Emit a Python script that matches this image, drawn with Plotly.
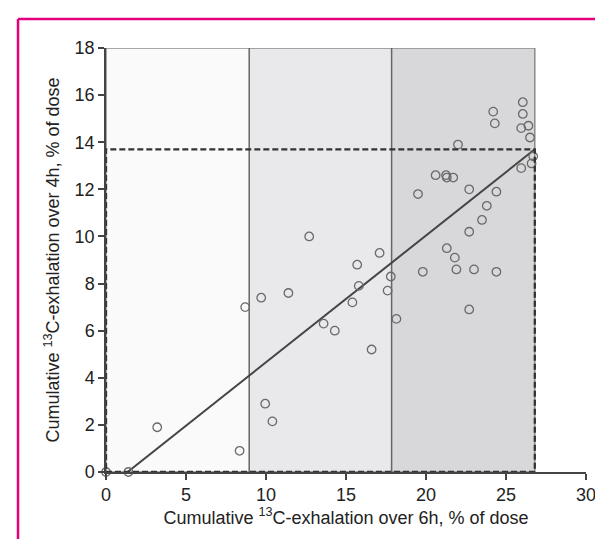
import plotly.graph_objects as go

# Data
x_6h = [0.0, 1.4, 3.2, 8.35, 8.7, 9.7, 9.95, 10.4, 11.4, 12.7, 13.6, 14.3,
        15.4, 15.7, 15.8, 16.6, 17.1, 17.6, 17.8, 18.15, 19.5, 19.8, 20.6, 21.25,
        21.3, 21.3, 21.7, 21.8, 21.9, 22.0, 22.7, 22.7, 22.7, 23.0, 23.5, 23.8,
        24.2, 24.3, 24.4, 24.4, 25.95, 25.95, 26.05, 26.05, 26.4, 26.5, 26.7, 26.6]
y_4h = [0.0, 0.0, 1.9, 0.9, 7.0, 7.4, 2.9, 2.15, 7.6, 10.0, 6.3, 6.0,
        7.2, 8.8, 7.9, 5.2, 9.3, 7.7, 8.3, 6.5, 11.8, 8.5, 12.6, 12.6,
        12.5, 9.5, 12.5, 9.1, 8.6, 13.9, 12.0, 10.2, 6.9, 8.6, 10.7, 11.3,
        15.3, 14.8, 11.9, 8.5, 14.6, 12.9, 15.7, 15.2, 14.7, 14.2, 13.4, 13.1]

fit_x = [1.35, 26.8]
fit_y = [0.0, 13.7]

tertile_bounds = [0.0, 8.95, 17.85, 26.8]
y_cut = 13.7

x_ticks = [0, 5, 10, 15, 20, 25, 30]
y_ticks = [0, 2, 4, 6, 8, 10, 12, 14, 16, 18]

x_title = "Cumulative <sup>13</sup>C-exhalation over 6h, % of dose"
y_title = "Cumulative <sup>13</sup>C-exhalation over 4h, % of dose"

fills = ["#fafafa", "#e9e9eb", "#d8d8da"]

shapes = []
for i in range(3):
    shapes.append(dict(type="rect", xref="x", yref="y", layer="below",
                       x0=tertile_bounds[i], x1=tertile_bounds[i + 1], y0=0, y1=18,
                       fillcolor=fills[i], line=dict(width=0)))
shapes.append(dict(type="rect", xref="x", yref="y", layer="below",
                   x0=tertile_bounds[0], x1=tertile_bounds[3], y0=0, y1=18,
                   line=dict(color="#8a8a8a", width=1.5)))
for b in tertile_bounds[1:3]:
    shapes.append(dict(type="line", xref="x", yref="y", layer="below",
                       x0=b, x1=b, y0=0, y1=18,
                       line=dict(color="#666666", width=1.5)))
shapes.append(dict(type="rect", xref="x", yref="y", layer="above",
                   x0=tertile_bounds[0], x1=tertile_bounds[3], y0=0, y1=y_cut,
                   line=dict(color="#333333", width=2.3, dash="6px,3px")))
# magenta frame (top and left edges visible)
shapes.append(dict(type="line", xref="paper", yref="paper", layer="above",
                   x0=-0.1833, x1=1.2, y0=1.0684, y1=1.0684,
                   line=dict(color="#e4007c", width=2.5)))
shapes.append(dict(type="line", xref="paper", yref="paper", layer="above",
                   x0=-0.1833, x1=-0.1833, y0=1.0684, y1=-0.3,
                   line=dict(color="#e4007c", width=2.5)))

fig = go.Figure()
fig.add_trace(go.Scatter(x=fit_x, y=fit_y, mode="lines",
                         line=dict(color="#444444", width=2), hoverinfo="skip",
                         cliponaxis=False))
fig.add_trace(go.Scatter(x=x_6h, y=y_4h, mode="markers",
                         marker=dict(symbol="circle-open", size=8.5, color="#6a6a6a",
                                     line=dict(width=1.3)),
                         cliponaxis=False))

fig.update_layout(
    width=603, height=539,
    margin=dict(l=98, r=25, t=40, b=75),
    paper_bgcolor="white", plot_bgcolor="white",
    showlegend=False,
    font=dict(family="Liberation Sans, Arial, sans-serif", size=18, color="#222222"),
    shapes=shapes,
    xaxis=dict(range=[0, 30], tickvals=x_ticks, showgrid=False, zeroline=False,
               showline=True, linecolor="#444444", linewidth=1.5,
               ticks="outside", ticklen=6, tickcolor="#444444", tickwidth=1.5,
               automargin=False,
               title=dict(text=x_title, standoff=3, font=dict(size=18))),
    yaxis=dict(range=[0, 18], tickvals=y_ticks, showgrid=False, zeroline=False,
               showline=True, linecolor="#444444", linewidth=1.5,
               ticks="outside", ticklen=6, tickcolor="#444444", tickwidth=1.5,
               automargin=False,
               title=dict(text=y_title, standoff=10, font=dict(size=18))),
)

fig.write_html("out.html")
